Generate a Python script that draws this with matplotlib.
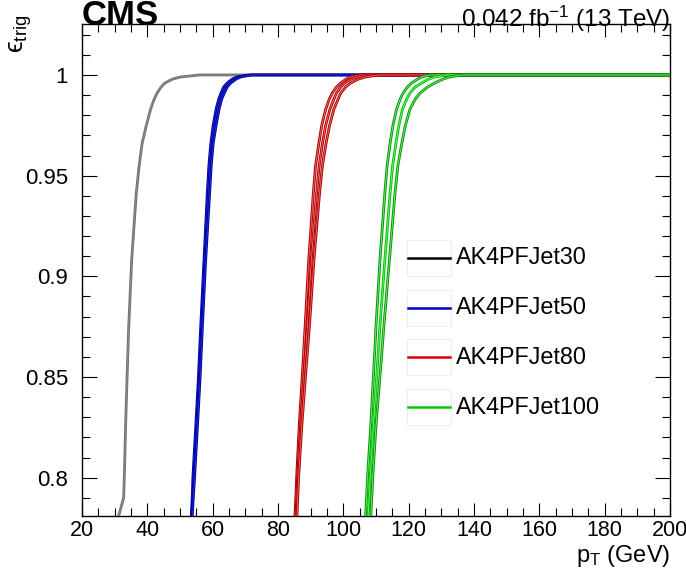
import matplotlib
matplotlib.use("Agg")
import matplotlib.pyplot as plt
from matplotlib.patches import Rectangle
from matplotlib.lines import Line2D
from matplotlib.ticker import MultipleLocator

plt.rcParams["font.family"] = ["Liberation Sans", "DejaVu Sans"]
plt.rcParams["mathtext.fontset"] = "custom"
plt.rcParams["mathtext.rm"] = "Liberation Sans"
plt.rcParams["mathtext.it"] = "Liberation Sans:italic"
plt.rcParams["mathtext.bf"] = "Liberation Sans:bold"

# Efficiency levels shared by all turn-on curves (last point carries the plateau to 200 GeV)
eff = [0.781, 0.79, 0.80, 0.826, 0.85, 0.875, 0.908, 0.941, 0.955, 0.966, 0.975,
       0.983, 0.988, 0.991, 0.994, 0.996, 0.998, 0.999, 1.0, 1.0]

# pT (GeV) at which each curve reaches the efficiency levels above
pt_jet30 = [31.2, 32.75, 32.95, 33.35, 33.8, 34.3, 35.2, 36.6, 37.5, 38.4, 39.7,
            41.0, 42.1, 43.0, 44.2, 45.4, 47.8, 50.2, 56.0, 200.0]

pt_jet50_lo = [53.4, 53.7, 53.9, 54.8, 55.6, 56.3, 57.3, 58.3, 58.8, 59.4, 60.1,
               61.0, 61.8, 62.5, 63.3, 64.4, 65.9, 67.3, 70.8, 200.0]
pt_jet50 = [53.6, 53.9, 54.2, 55.1, 55.9, 56.6, 57.6, 58.7, 59.2, 59.8, 60.6,
            61.5, 62.3, 63.0, 63.9, 65.0, 66.6, 68.0, 71.5, 200.0]
pt_jet50_hi = [53.8, 54.1, 54.5, 55.4, 56.2, 56.9, 57.9, 59.1, 59.6, 60.2, 61.1,
               62.0, 62.8, 63.6, 64.5, 65.6, 67.3, 68.7, 72.2, 200.0]

pt_jet80_lo = [85.2, 85.45, 85.7, 86.5, 87.4, 88.3, 89.4, 90.8, 91.5, 92.5, 93.4,
               94.6, 95.7, 96.6, 97.9, 99.2, 100.9, 102.2, 105.0, 200.0]
pt_jet80 = [85.5, 85.75, 86.0, 86.9, 87.9, 89.0, 90.2, 91.8, 92.6, 93.6, 94.6,
            95.9, 97.1, 97.9, 99.2, 100.4, 102.4, 104.2, 108.0, 200.0]
pt_jet80_hi = [85.8, 86.05, 86.3, 87.3, 88.4, 89.6, 91.0, 92.7, 93.6, 94.7, 95.8,
               97.1, 98.4, 99.2, 100.7, 102.2, 104.7, 106.7, 111.0, 200.0]

pt_jet100_lo = [106.8, 107.1, 107.4, 108.4, 109.2, 110.0, 111.2, 112.7, 113.4, 114.3, 115.2,
                116.3, 117.4, 118.3, 119.6, 120.9, 122.8, 124.0, 126.5, 200.0]
pt_jet100 = [107.6, 107.9, 108.2, 109.2, 110.2, 111.2, 112.7, 114.3, 115.1, 116.1, 117.0,
             118.1, 119.4, 120.4, 122.0, 124.0, 126.2, 128.0, 131.6, 200.0]
pt_jet100_hi = [108.4, 108.7, 109.0, 110.0, 111.2, 112.4, 114.1, 115.8, 116.7, 117.9, 119.0,
                120.4, 122.0, 123.5, 125.8, 128.0, 130.6, 132.5, 136.6, 200.0]

labels = ["AK4PFJet30", "AK4PFJet50", "AK4PFJet80", "AK4PFJet100"]
legend_colors = ["#000000", "#0000cc", "#dd0000", "#00cc00"]

W, H = 686, 573
fig = plt.figure(figsize=(W / 100, H / 100), dpi=100)
ax = fig.add_axes([82 / W, 1 - 516 / H, 588 / W, (516 - 24) / H])


def draw_curve(x, dark, light, lw_out=2.0, lw_in=0.6):
    ax.plot(x, eff, color=dark, lw=lw_out, solid_capstyle="butt", zorder=3)
    ax.plot(x, eff, color=light, lw=lw_in, solid_capstyle="butt", zorder=3)


draw_curve(pt_jet30, "#6e6e6e", "#8a8a8a", lw_out=2.0, lw_in=0.8)
for x in (pt_jet50_lo, pt_jet50, pt_jet50_hi):
    draw_curve(x, "#0000a8", "#2a3ad0", lw_out=1.8, lw_in=0.5)
for x in (pt_jet80_lo, pt_jet80, pt_jet80_hi):
    draw_curve(x, "#b00000", "#f07070")
for x, dark in ((pt_jet100_lo, "#009a00"), (pt_jet100, "#00c800"), (pt_jet100_hi, "#009a00")):
    draw_curve(x, dark, "#7ee87e")

ax.set_xlim(20, 200)
ax.set_ylim(0.781, 1.0253)
ax.xaxis.set_major_locator(MultipleLocator(20))
ax.xaxis.set_minor_locator(MultipleLocator(5))
ax.yaxis.set_minor_locator(MultipleLocator(0.01))
ax.set_yticks([0.8, 0.85, 0.9, 0.95, 1.0])
ax.set_yticklabels(["0.8", "0.85", "0.9", "0.95", "1"])
ax.tick_params(which="both", direction="in", top=True, right=True, width=0.8)
ax.tick_params(axis="x", which="major", length=9.5, labelsize=15.5, pad=3)
ax.tick_params(axis="x", which="minor", length=5.5)
ax.tick_params(axis="y", which="major", length=11, labelsize=16, pad=10)
ax.tick_params(axis="y", which="minor", length=5.5)
for s in ax.spines.values():
    s.set_linewidth(1.0)

# Legend entries drawn with light boxes around the line samples
for i, (lab, col) in enumerate(zip(labels, legend_colors)):
    yc = 258 + i * 49.7
    fig.add_artist(Rectangle((407 / W, 1 - (yc + 18) / H), 44 / W, 36 / H,
                             transform=fig.transFigure, fill=False,
                             edgecolor="#eeeeee", lw=0.8))
    fig.add_artist(Line2D([408 / W, 450 / W], [1 - yc / H, 1 - yc / H],
                          transform=fig.transFigure, color=col, lw=1.8))
    fig.text(456 / W, 1 - yc / H, lab, fontsize=16.8, ha="left", va="center")

fig.text(82 / W, 1 - 25 / H, "CMS", fontsize=25, fontweight="bold", ha="left", va="baseline")
fig.text(670 / W, 1 - 27 / H, "0.042 fb$^{-1}$ (13 TeV)", fontsize=17.5, ha="right", va="baseline")
fig.text(21 / W, 1 - 34 / H, "ϵ$_{\\mathrm{trig}}$", fontsize=19, rotation=90, ha="center", va="center")
fig.text(670 / W, 1 - 556 / H, "p$_{\\mathrm{T}}$ (GeV)", fontsize=17, ha="right", va="center")

fig.savefig("out.png", dpi=100)
